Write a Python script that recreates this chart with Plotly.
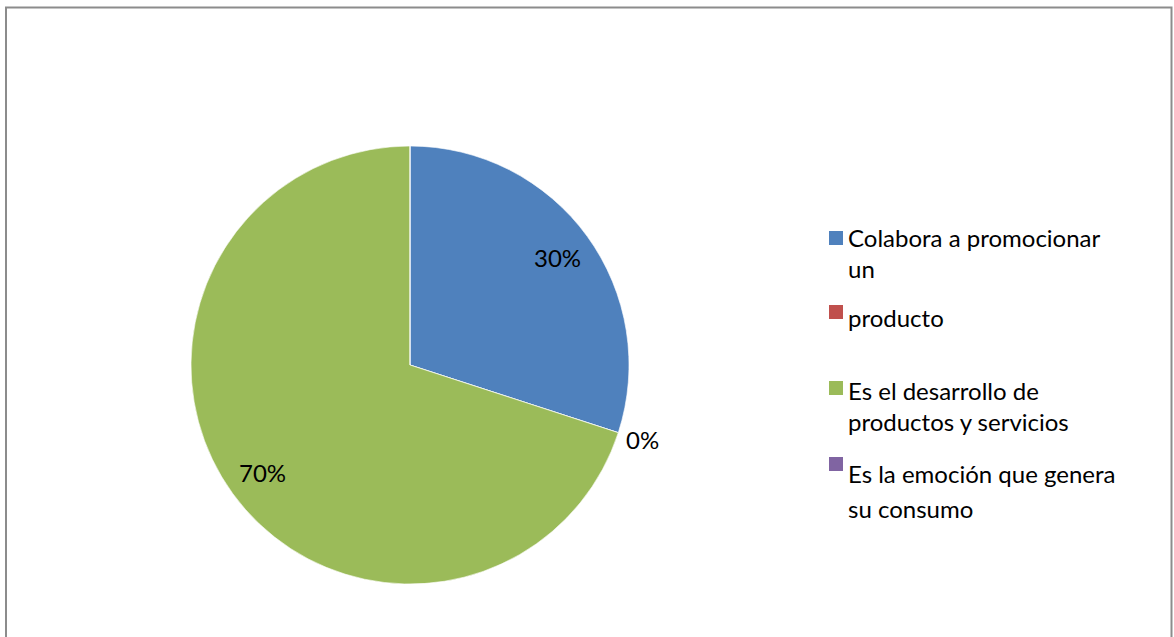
import math
import plotly.graph_objects as go

# Survey answers and their share of responses (%)
labels = [
    "Colabora a promocionar un producto",
    "producto",
    "Es el desarrollo de productos y servicios",
    "Es la emoción que genera su consumo",
]
values = [30, 0, 70, 0]
colors = ["#4F81BD", "#C0504D", "#9BBB59", "#8064A2"]

# Legend text blocks as they are set in the legend box
legend_blocks = [
    ["Colabora a promocionar<br>un"],
    ["producto"],
    ["Es el desarrollo de<br>productos y servicios"],
    ["Es la emoción que genera", "su consumo"],
]

W, H = 1174, 637
FONT = "Lato"
FS = 24

# Pie geometry in pixels
cx, cy, R = 410, 365, 219

fig = go.Figure(
    go.Pie(
        labels=labels,
        values=values,
        marker=dict(colors=colors, line=dict(color="white", width=0.6)),
        sort=False,
        direction="clockwise",
        rotation=0,
        textinfo="none",
        hoverinfo="label+percent",
        showlegend=False,
        domain=dict(
            x=[(cx - R) / W, (cx + R) / W],
            y=[(H - cy - R) / H, (H - cy + R) / H],
        ),
    )
)


def to_paper(px, py):
    return px / W, 1 - py / H


annotations = []
shapes = []

# Percentage labels placed at each slice's mid angle
total = sum(values)
cum = 0
labelled_zero = False
for v in values:
    start = cum / total * 360
    cum += v
    end = cum / total * 360
    mid = math.radians((start + end) / 2)
    pct = f"{round(v / total * 100)}%"
    if v > 0:
        k = 0.835
        px = cx + R * k * math.sin(mid)
        py = cy - R * k * math.cos(mid)
        x, y = to_paper(px, py)
        annotations.append(dict(x=x, y=y, text=pct, showarrow=False,
                                xanchor="center", yanchor="middle",
                                font=dict(family=FONT, size=FS, color="black")))
    elif not labelled_zero:
        labelled_zero = True
        px = cx + R * 1.02 * math.sin(mid) + 2
        py = cy - R * 1.02 * math.cos(mid) + 5
        x, y = to_paper(px, py)
        annotations.append(dict(x=x, y=y, text=pct, showarrow=False,
                                xanchor="left", yanchor="middle",
                                font=dict(family=FONT, size=FS, color="black")))

# Hand-set legend: colour key squares and text blocks
sq_x, sq_size, txt_x = 829, 14, 846
key_tops = [231, 305, 381, 457]
block_centers = [[253], [317], [406], [473, 508]]
for col, top, blocks, centers in zip(colors, key_tops, legend_blocks, block_centers):
    x0, y1 = to_paper(sq_x, top)
    x1, y0 = to_paper(sq_x + sq_size, top + sq_size)
    shapes.append(dict(type="rect", xref="paper", yref="paper",
                       x0=x0, x1=x1, y0=y0, y1=y1,
                       fillcolor=col, line=dict(width=0)))
    for text, c in zip(blocks, centers):
        x, y = to_paper(txt_x, c)
        annotations.append(dict(x=x, y=y, text=text, showarrow=False,
                                xanchor="left", yanchor="middle", align="left",
                                font=dict(family=FONT, size=FS, color="black")))

# Chart frame (runs past the bottom edge)
shapes.append(dict(type="rect", xref="paper", yref="paper",
                   x0=6 / W, x1=1171.5 / W, y0=-0.05, y1=1 - 7.5 / H,
                   line=dict(color="#8C8C8C", width=2), fillcolor="rgba(0,0,0,0)"))

fig.update_layout(
    width=W,
    height=H,
    margin=dict(l=0, r=0, t=0, b=0),
    paper_bgcolor="white",
    plot_bgcolor="white",
    annotations=annotations,
    shapes=shapes,
    font=dict(family=FONT, size=FS, color="black"),
)

fig.write_html("out.html")
